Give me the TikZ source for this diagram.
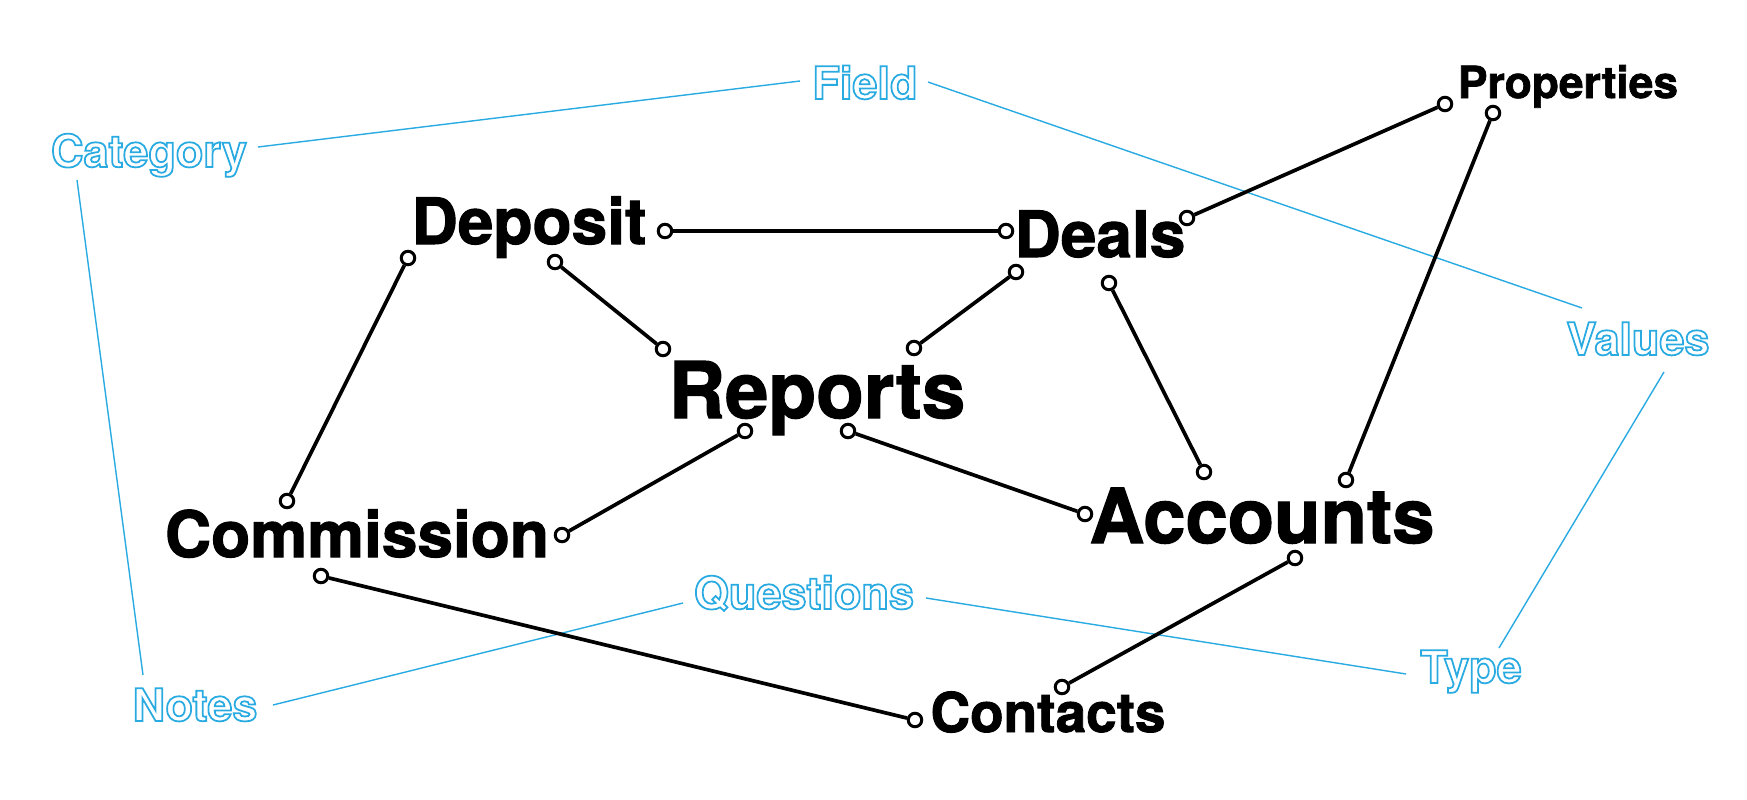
\documentclass[tikz,border=0pt]{standalone}
\usepackage{fontspec}
\setmainfont{TeX Gyre Heros}
\newfontfamily\heavyfont{TeX Gyre Heros}[BoldFeatures={FakeBold=1.6}]
\usetikzlibrary{positioning}
\definecolor{skyline}{RGB}{41,171,226}
% stroke-only glyphs for the light labels
\newcommand\hollow[1]{\special{pdf:literal direct 1 Tr 0.5 w}#1\special{pdf:literal direct 0 Tr}}

\begin{document}
\begin{tikzpicture}[
x=0.01cm, y=-0.01cm,
term/.style={font=\heavyfont\bfseries\fontsize{#1}{#1}\selectfont, inner sep=0pt, anchor=base},
tag/.style={text=skyline, font=\bfseries\fontsize{12.8}{12.8}\selectfont, inner sep=0pt, anchor=base},
dot/.style={circle, draw, fill=white, line width=0.85pt, minimum size=0.135cm, inner sep=0pt},
link/.style={line width=1.05pt},
hint/.style={skyline, line width=0.4pt}
]
\useasboundingbox (0,0) rectangle (1747,799);

% main terms
\node[term=18.2] (deposit) at (529,244) {Deposit};
\node[term=18.2] (deals) at (1100,257) {Deals};
\node[term=12.6] (properties) at (1568,98) {Properties};
\node[term=22.2] (reports) at (817,418) {Reports};
\node[term=18.2] (commission) at (357,557) {Commission};
\node[term=21.6] (accounts) at (1262,543) {Accounts};
\node[term=15.6] (contacts) at (1048,732) {Contacts};

% light labels
\node[tag] (field) at (865,99) {\hollow{Field}};
\node[tag] (category) at (149,167) {\hollow{Category}};
\node[tag] (values) at (1638,355) {\hollow{Values}};
\node[tag] (questions) at (804,609) {\hollow{Questions}};
\node[tag] (notes) at (195,721) {\hollow{Notes}};
\node[tag] (type) at (1471,683) {\hollow{Type}};

% light connectors
\coordinate (cat-r) at (258,147);
\coordinate (field-l) at (800,81);
\coordinate (field-r) at (928,82);
\coordinate (val-t) at (1582,308);
\coordinate (cat-b) at (77,180);
\coordinate (notes-t) at (143,675);
\coordinate (notes-r) at (273,705);
\coordinate (ques-l) at (683,603);
\coordinate (ques-r) at (926,598);
\coordinate (type-l) at (1406,674);
\coordinate (val-b) at (1664,372);
\coordinate (type-t) at (1499,648);

\draw[hint] (cat-r) -- (field-l);
\draw[hint] (field-r) -- (val-t);
\draw[hint] (cat-b) -- (notes-t);
\draw[hint] (notes-r) -- (ques-l);
\draw[hint] (ques-r) -- (type-l);
\draw[hint] (val-b) -- (type-t);

% end points
\node[dot] (dep-east) at (665,231) {};
\node[dot] (deal-west) at (1006,231) {};
\node[dot] (deal-east) at (1187,218) {};
\node[dot] (prop-west) at (1445,104) {};
\node[dot] (prop-south) at (1493,113) {};
\node[dot] (acc-north) at (1346,480) {};
\node[dot] (deal-south) at (1109,283) {};
\node[dot] (acc-top) at (1204,472) {};
\node[dot] (deal-sw) at (1016,272) {};
\node[dot] (rep-ne) at (914,348) {};
\node[dot] (dep-south) at (555,262) {};
\node[dot] (rep-nw) at (663,349) {};
\node[dot] (dep-sw) at (408,258) {};
\node[dot] (com-north) at (287,501) {};
\node[dot] (rep-sw) at (745,431) {};
\node[dot] (com-east) at (562,535) {};
\node[dot] (rep-se) at (848,431) {};
\node[dot] (acc-west) at (1085,514) {};
\node[dot] (com-south) at (321,576) {};
\node[dot] (con-west) at (915,720) {};
\node[dot] (acc-south) at (1295,558) {};
\node[dot] (con-north) at (1062,687) {};

\draw[link] (dep-east) -- (deal-west);
\draw[link] (deal-east) -- (prop-west);
\draw[link] (prop-south) -- (acc-north);
\draw[link] (deal-south) -- (acc-top);
\draw[link] (deal-sw) -- (rep-ne);
\draw[link] (dep-south) -- (rep-nw);
\draw[link] (dep-sw) -- (com-north);
\draw[link] (rep-sw) -- (com-east);
\draw[link] (rep-se) -- (acc-west);
\draw[link] (com-south) -- (con-west);
\draw[link] (acc-south) -- (con-north);

\end{tikzpicture}
\end{document}
